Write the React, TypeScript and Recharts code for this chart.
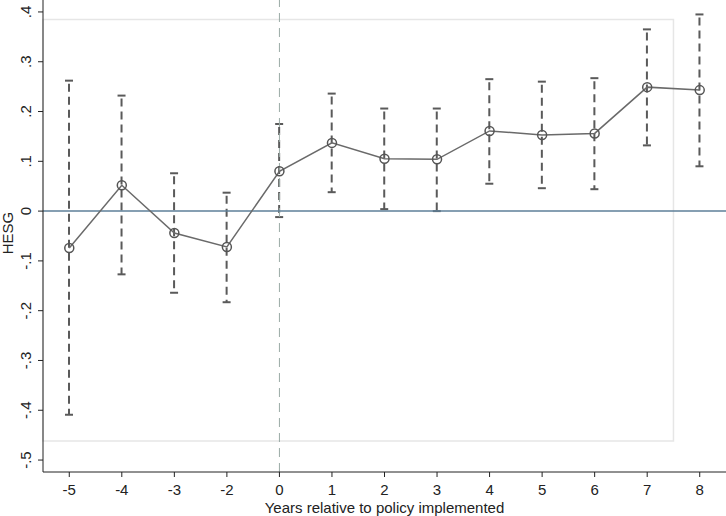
import React from "react";
import {
  ComposedChart,
  Bar,
  Line,
  XAxis,
  YAxis,
  ReferenceLine,
  ReferenceArea,
  Label,
} from "recharts";

// event-study estimates
const years = ["-5", "-4", "-3", "-2", "0", "1", "2", "3", "4", "5", "6", "7", "8"];
const coef = [-0.074, 0.052, -0.044, -0.072, 0.08, 0.137, 0.105, 0.104, 0.161, 0.153, 0.156, 0.249, 0.243];
const lower = [-0.409, -0.127, -0.164, -0.183, -0.012, 0.038, 0.004, 0.0, 0.055, 0.046, 0.044, 0.132, 0.09];
const upper = [0.262, 0.232, 0.076, 0.037, 0.175, 0.236, 0.206, 0.206, 0.265, 0.26, 0.267, 0.365, 0.395];
const yTicks = [-0.5, -0.4, -0.3, -0.2, -0.1, 0, 0.1, 0.2, 0.3, 0.4];

const data = years.map((year, i) => ({
  year,
  coef: coef[i],
  ci: [lower[i], upper[i]],
}));

const FONT = "'Liberation Sans', Arial, Helvetica, sans-serif";

// stata style: .4, -.1, 0
const fmt = (v: number) => {
  if (v === 0) return "0";
  const s = Math.abs(v).toFixed(1).replace(/^0/, "");
  return (v < 0 ? "-" : "") + s;
};

const CiShape = (props: any) => {
  const { x, y, width, height } = props;
  const cx = x + width / 2;
  const top = Math.min(y, y + height);
  const bot = Math.max(y, y + height);
  const stroke = "#5a5a5a";
  return (
    <g>
      <line x1={cx} x2={cx} y1={top} y2={bot} stroke={stroke} strokeWidth={2} strokeDasharray="8 5" strokeDashoffset={10} />
      <line x1={cx - 4} x2={cx + 4} y1={top} y2={top} stroke={stroke} strokeWidth={2} />
      <line x1={cx - 4} x2={cx + 4} y1={bot} y2={bot} stroke={stroke} strokeWidth={2} />
    </g>
  );
};

const YTick = (props: any) => {
  const { x, y, payload } = props;
  return (
    <text
      transform={`translate(${x - 5.5},${y}) rotate(-90)`}
      textAnchor="middle"
      fontSize={15}
      fontFamily={FONT}
      fill="#222"
    >
      {fmt(payload.value)}
    </text>
  );
};

export default function App() {
  return (
    <div style={{ width: 726, height: 516, background: "#fff" }}>
      <style>{`body{margin:0}`}</style>
      <ComposedChart
        width={726}
        height={516}
        data={data}
        margin={{ top: 0, right: 0, bottom: 0, left: 0 }}
      >
        <ReferenceArea
          x1="-5"
          x2="7"
          y1={-0.4617}
          y2={0.385}
          fill="none"
          stroke="#e6e6e6"
          strokeWidth={1.5}
        />
        <XAxis
          dataKey="year"
          type="category"
          height={44}
          tickSize={5}
          tickMargin={7}
          stroke="#222"
          tick={{ fontSize: 15, fill: "#222", fontFamily: FONT }}
          label={
            <Label
              content={(p: any) => {
                const vb = p.viewBox;
                return (
                  <text
                    x={vb.x + vb.width / 2}
                    y={vb.y + 40.5}
                    textAnchor="middle"
                    fontSize={15}
                    fontFamily={FONT}
                    fill="#222"
                  >
                    Years relative to policy implemented
                  </text>
                );
              }}
            />
          }
        />
        <YAxis
          type="number"
          width={43}
          domain={[-0.524, 0.424]}
          allowDataOverflow
          ticks={yTicks}
          interval={0}
          tickSize={5}
          stroke="#222"
          tick={<YTick />}
          label={
            <Label
              content={(p: any) => {
                const vb = p.viewBox;
                return (
                  <text
                    transform={`translate(${vb.x + 13.3},${vb.y + vb.height / 2 - 3}) rotate(-90)`}
                    textAnchor="middle"
                    fontSize={15}
                    fontFamily={FONT}
                    fill="#222"
                  >
                    HESG
                  </text>
                );
              }}
            />
          }
        />
        <ReferenceLine x="0" stroke="#9aaaa6" strokeWidth={1} strokeDasharray="9 6" />
        <ReferenceLine y={0} stroke="#5e7f98" strokeWidth={1.5} />
        <Bar dataKey="ci" barSize={8} shape={<CiShape />} isAnimationActive={false} />
        <Line
          type="linear"
          dataKey="coef"
          stroke="#6a6a6a"
          strokeWidth={1.5}
          dot={{ r: 4.5, stroke: "#555", strokeWidth: 1.5, fill: "none" }}
          activeDot={false}
          isAnimationActive={false}
        />
      </ComposedChart>
    </div>
  );
}
